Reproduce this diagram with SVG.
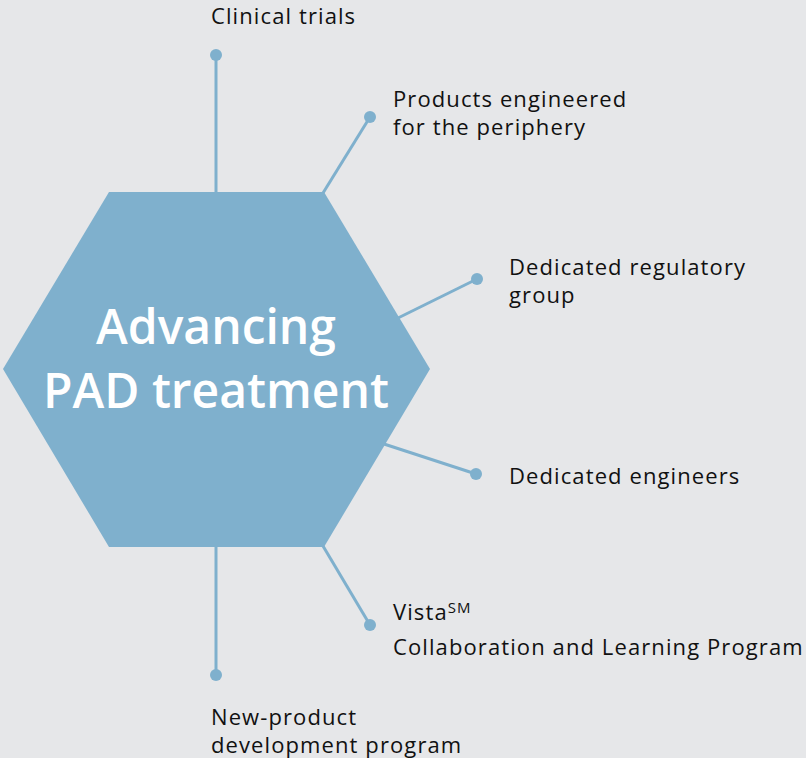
<svg xmlns="http://www.w3.org/2000/svg" width="806" height="758" viewBox="0 0 806 758">
<style>
.lbl{font-family:"Open Sans","Noto Sans","Liberation Sans",sans-serif;font-size:22px;letter-spacing:1.1px;fill:#111;}
.ctr{font-family:"Open Sans","Noto Sans","Liberation Sans",sans-serif;font-size:48px;fill:#fff;font-weight:600;text-anchor:middle;}
.con{stroke:#7fb0cd;stroke-width:3;fill:none;}
.dot{fill:#7fb0cd;}
</style>
<rect width="806" height="758" fill="#e6e7e9"/>
<g id="connectors">
<line class="con" x1="216" y1="55" x2="216" y2="193"/>
<line class="con" x1="370" y1="117" x2="323" y2="193"/>
<line class="con" x1="477" y1="279" x2="398" y2="318"/>
<line class="con" x1="476" y1="474" x2="384" y2="444"/>
<line class="con" x1="370" y1="625" x2="323" y2="546"/>
<line class="con" x1="216" y1="675" x2="216" y2="546"/>
<circle class="dot" cx="216" cy="55" r="6"/>
<circle class="dot" cx="370" cy="117" r="6"/>
<circle class="dot" cx="477" cy="279" r="6"/>
<circle class="dot" cx="476" cy="474" r="6"/>
<circle class="dot" cx="370" cy="625" r="6"/>
<circle class="dot" cx="216" cy="675" r="6"/>
</g>
<g id="hexagon">
<polygon points="109,192 324,192 430,369 324,547 109,547 3,369" fill="#7fb0cd"/>
<text class="ctr" x="216" y="344">Advancing</text>
<text class="ctr" x="216" y="408">PAD treatment</text>
</g>
<g id="clinical-trials"><text class="lbl" x="211" y="24">Clinical trials</text></g>
<g id="products"><text class="lbl" x="393" y="107">Products engineered</text><text class="lbl" x="393" y="135">for the periphery</text></g>
<g id="regulatory"><text class="lbl" x="509" y="275">Dedicated regulatory</text><text class="lbl" x="509" y="303">group</text></g>
<g id="engineers"><text class="lbl" x="509" y="484">Dedicated engineers</text></g>
<g id="vista"><text class="lbl" x="393" y="620">Vista<tspan font-size="15" dy="-7">SM</tspan></text><text class="lbl" x="393" y="655">Collaboration and Learning Program</text></g>
<g id="new-product"><text class="lbl" x="211" y="725">New-product</text><text class="lbl" x="211" y="753">development program</text></g>
</svg>
